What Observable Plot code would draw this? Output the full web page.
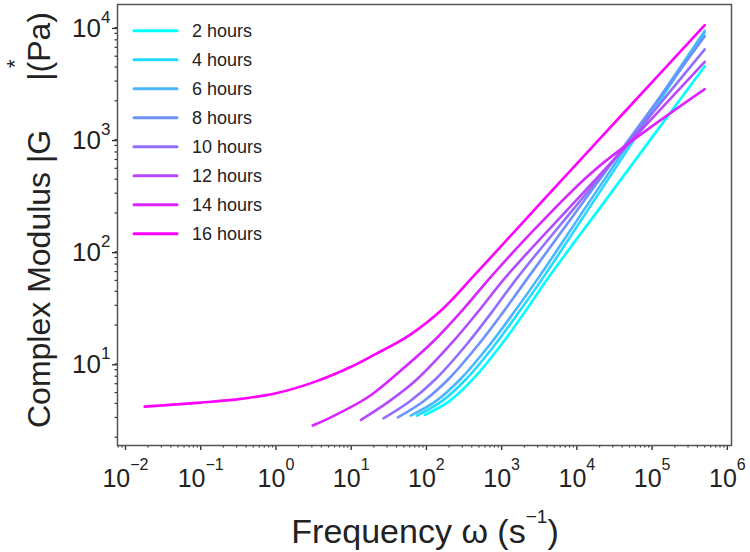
<!DOCTYPE html>
<html><head><meta charset="utf-8">
<script src="https://cdn.jsdelivr.net/npm/d3@7"></script>
<script src="https://cdn.jsdelivr.net/npm/@observablehq/plot@0.6"></script>
<style>
body{margin:0;background:#fff;}
#chart{width:750px;height:552px;}
</style></head><body><div id="chart"></div>
<script>
// ---- data (ω in s^-1, |G*| in Pa) ----
const seriesNames = ["2 hours","4 hours","6 hours","8 hours","10 hours","12 hours","14 hours","16 hours"];
const seriesColors = ["#00ffff","#24dbff","#49b6ff","#6d92ff","#926dff","#b649ff","#db24ff","#ff00ff"];

const omega_2h  = [95.5, 200, 417, 1000, 2000, 4270, 24000, 500000];
const G_2h      = [3.16, 4.17, 6.61, 13.5, 25.7, 54.1, 259, 4070];
const omega_4h  = [75, 159, 338, 824, 1670, 3630, 17000, 500000];
const G_4h      = [3.12, 4.17, 6.61, 13.5, 25.7, 54.1, 259, 8130];
const omega_6h  = [61.7, 132, 284, 703, 1440, 3160, 15100, 500000];
const G_6h      = [3.12, 4.17, 6.61, 13.5, 25.7, 54.1, 259, 8410];
const omega_8h  = [41.7, 90.8, 197, 495, 1030, 2290, 12600, 500000];
const G_8h      = [3.01, 4.17, 6.61, 13.5, 25.7, 54.1, 259, 7550];
const omega_10h = [26.9, 59.8, 133, 344, 728, 1660, 11200, 500000];
const G_10h     = [2.95, 4.17, 6.61, 13.5, 25.7, 54.1, 259, 5750];
const omega_12h = [13.5, 31.9, 75.7, 210, 472, 1148, 9770, 500000];
const G_12h     = [2.85, 4.17, 6.61, 13.5, 25.7, 54.1, 259, 4450];
const omega_14h = [3.08, 5.97, 16.6, 45.7, 126, 316, 724, 3160, 17000, 500000];
const G_14h     = [2.54, 3.12, 4.54, 7.87, 14.5, 28.2, 54.1, 158, 479, 2540];
const omega_16h = [0.018, 0.1, 0.32, 1, 3.2, 10, 21, 59, 166, 417, 3550, 40000, 500000];
const G_16h     = [3.75, 4.07, 4.37, 4.93, 6.2, 8.5, 11, 16.2, 28, 54, 259, 1510, 9460];

const xMajorTicks = [1e-2, 1e-1, 1e0, 1e1, 1e2, 1e3, 1e4, 1e5, 1e6];
const yMajorTicks = [1e1, 1e2, 1e3, 1e4];

// ---- build table ----
const omegas = [omega_2h, omega_4h, omega_6h, omega_8h, omega_10h, omega_12h, omega_14h, omega_16h];
const Gs = [G_2h, G_4h, G_6h, G_8h, G_10h, G_12h, G_14h, G_16h];
const table = [];
seriesNames.forEach((s, i) => omegas[i].forEach((w, j) => table.push({series: s, omega: w, G: Gs[i][j]})));

const minorX = [];
for (let d = -3; d <= 6; d++) for (let m = 2; m <= 9; m++) { const v = m * 10 ** d; if (v > 10 ** -2.106 && v < 10 ** 6.055) minorX.push(v); }
const minorY = [];
for (let d = 0; d <= 4; d++) for (let m = 2; m <= 9; m++) { const v = m * 10 ** d; if (v > 10 ** 0.227 && v < 10 ** 4.16) minorY.push(v); }

const expFmt = d => { const e = Math.round(Math.log10(d)); return "10^" + (e < 0 ? "\u2212" + (-e) : e); };

const chart = Plot.plot({
  width: 750, height: 552,
  marginLeft: 117, marginRight: 19, marginTop: 4, marginBottom: 107,
  style: {fontFamily: "'Liberation Sans', Arial, sans-serif", background: "#fff", color: "#222"},
  x: {type: "log", domain: [10 ** -2.106, 10 ** 6.055], label: null},
  y: {type: "log", domain: [10 ** 0.227, 10 ** 4.16], label: null},
  color: {domain: seriesNames, range: seriesColors},
  marks: [
    Plot.axisX(minorX, {tickSize: 2.5, tickFormat: () => "", stroke: "#333", strokeWidth: 1.2, label: null}),
    Plot.axisY(minorY, {tickSize: 2.5, tickFormat: () => "", stroke: "#333", strokeWidth: 1.2, label: null}),
    Plot.axisX(xMajorTicks, {tickSize: 5, tickPadding: 19, tickFormat: expFmt, fontSize: 25, stroke: "#333", strokeWidth: 1.4, label: null}),
    Plot.axisY(yMajorTicks, {tickSize: 5, tickPadding: 2, tickFormat: expFmt, fontSize: 26, dy: 6, stroke: "#333", strokeWidth: 1.4, label: null}),
    Plot.line(table, {x: "omega", y: "G", z: "series", stroke: "series", strokeWidth: 2.6, curve: "catmull-rom"}),
    Plot.frame({stroke: "#555", strokeWidth: 1.5})
  ]
});
document.getElementById("chart").appendChild(chart);

const svg = d3.select(chart);
// superscript exponents on tick labels
svg.selectAll('g[aria-label$="tick label"] text').each(function () {
  const t = this.textContent;
  if (!t.startsWith("10^")) return;
  const isY = this.parentNode.getAttribute("aria-label").startsWith("y");
  const e = t.slice(3);
  const sel = d3.select(this);
  sel.text("10");
  sel.append("tspan").attr("font-size", isY ? 17 : 16).attr("dy", isY ? -14 : -17).text(e);
});

// axis labels
const fam = "'Liberation Sans', Arial, sans-serif";
const ylab = svg.append("g").attr("font-family", fam).attr("fill", "#222");
ylab.append("text").attr("transform", "translate(50,428) rotate(-90)").attr("text-anchor", "start").attr("font-size", 32).text("Complex Modulus |G");
ylab.append("text").attr("transform", "translate(50,12) rotate(-90)").attr("font-size", 32).attr("text-anchor", "end").text("|(Pa)");
ylab.append("text").attr("transform", "translate(22,68) rotate(-90)").attr("text-anchor", "start").attr("font-size", 22).text("*");

const xl = svg.append("text").attr("font-family", fam).attr("fill", "#222").attr("font-size", 34)
  .attr("x", 425).attr("y", 543).attr("text-anchor", "middle");
xl.append("tspan").text("Frequency \u03c9 (s");
xl.append("tspan").attr("font-size", 19).attr("dy", -20).text("\u22121");
xl.append("tspan").attr("dy", 20).text(")");

// legend
const lg = svg.append("g").attr("font-family", fam).attr("font-size", 18).attr("fill", "#222").attr("text-anchor", "start");
seriesNames.forEach((s, i) => {
  const y = 30.7 + 29.0 * i;
  lg.append("line").attr("x1", 134).attr("x2", 177).attr("y1", y).attr("y2", y)
    .attr("stroke", seriesColors[i]).attr("stroke-width", 3).attr("stroke-linecap", "round");
  lg.append("text").attr("x", 192).attr("y", y + 6.6).text(s);
});
</script></body></html>
